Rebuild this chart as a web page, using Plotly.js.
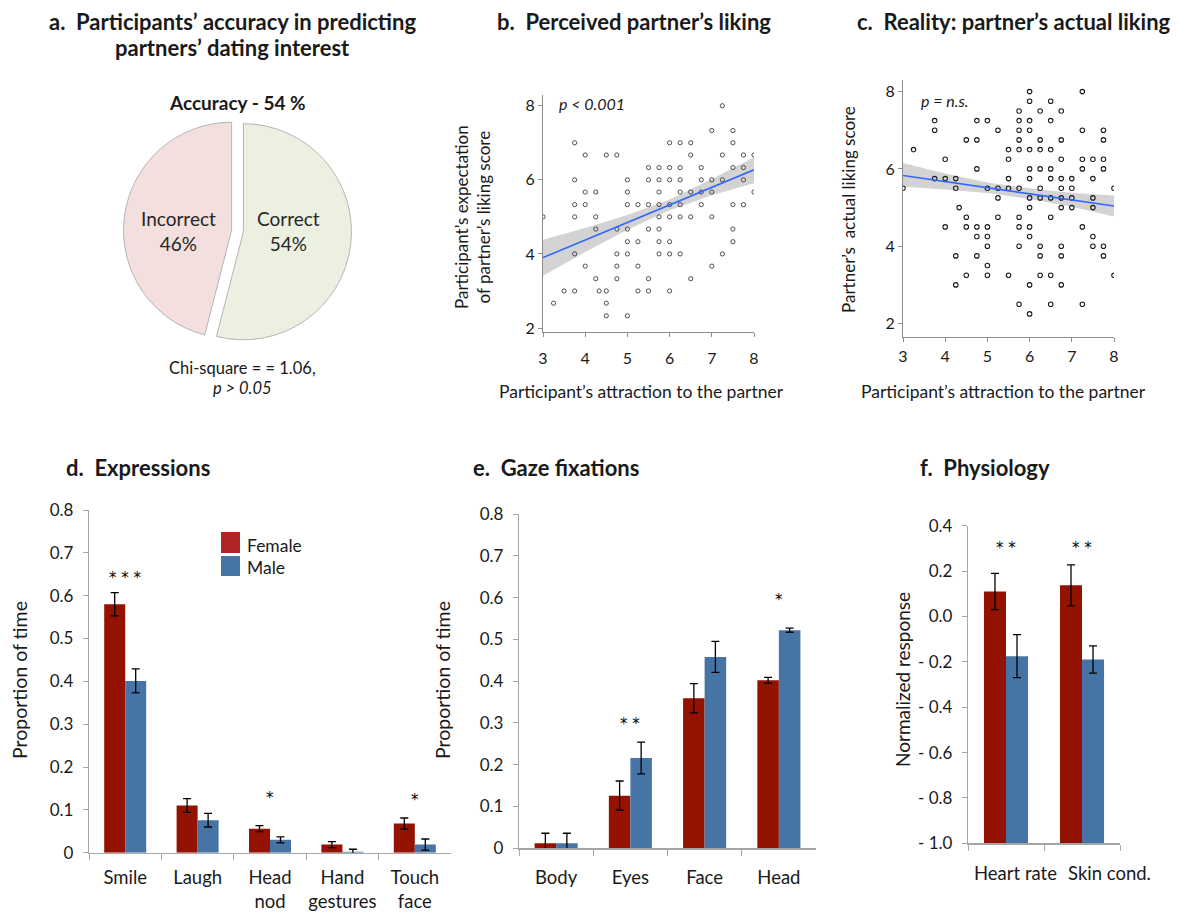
<!DOCTYPE html>
<html>
<head>
<meta charset="utf-8">
<script src="https://cdn.plot.ly/plotly-3.0.1.min.js"></script>
<style>html,body{margin:0;padding:0;background:#fff;}#chart{width:1179px;height:913px;}</style>
</head>
<body>
<div id="chart"></div>
<script>
// ---------- DATA ----------
const pieLabels = ['Correct', 'Incorrect'];
const pieValues = [54, 46];

// Panel b: perceived partner's liking (x = attraction, y = expected liking)
const bX = [
  7.25,
  7, 7.5,
  3.75, 6, 6.25, 6.5, 7.5,
  4, 4.5, 4.75, 6.5, 7.25, 7.75, 8,
  5.5, 5.75, 6, 6.25, 6.75, 7.5, 7.75,
  3.75, 5, 5.5, 5.75, 6, 6.25, 6.75, 7, 7.25, 7.75,
  4, 4.25, 5, 5.75, 6.25, 6.5, 6.75, 7, 8,
  3.75, 4, 5, 5.25, 5.5, 5.75, 6, 6.25, 6.75, 7.5, 7.75,
  3, 3.75, 4.25, 5.75, 6, 6.25, 6.5, 7,
  4.25, 4.75, 5, 5.5, 5.75, 7.5,
  5, 5.25, 5.75, 6, 7.5,
  3.75, 4.75, 5, 5.75, 6, 6.25, 7.25,
  4, 4.75, 5.25, 7,
  4.25, 4.75, 5.5, 6.5,
  3.5, 3.75, 4.33, 4.5, 5.25, 5.5, 6,
  3.25, 4.5,
  4.5, 5
];
const bY = [
  8,
  7.33, 7.33,
  7, 7, 7, 7, 7,
  6.67, 6.67, 6.67, 6.67, 6.67, 6.67, 6.67,
  6.33, 6.33, 6.33, 6.33, 6.33, 6.33, 6.33,
  6, 6, 6, 6, 6, 6, 6, 6, 6, 6,
  5.67, 5.67, 5.67, 5.67, 5.67, 5.67, 5.67, 5.67, 5.67,
  5.33, 5.33, 5.33, 5.33, 5.33, 5.33, 5.33, 5.33, 5.33, 5.33, 5.33,
  5, 5, 5, 5, 5, 5, 5, 5,
  4.67, 4.67, 4.67, 4.67, 4.67, 4.67,
  4.33, 4.33, 4.33, 4.33, 4.33,
  4, 4, 4, 4, 4, 4, 4,
  3.67, 3.67, 3.67, 3.67,
  3.33, 3.33, 3.33, 3.33,
  3, 3, 3, 3, 3, 3, 3,
  2.67, 2.67,
  2.33, 2.33
];

// Panel c: reality, partner's actual liking
const cX = [
  6, 7.25,
  6, 6.5,
  5.75, 6.25, 6.75,
  3.75, 4.75, 5, 5.75, 6, 6.5,
  3.75, 5.25, 5.75, 6, 7.25, 7.75,
  4.5, 4.75, 5.75, 6.25, 6.75, 7.75,
  3.25, 5.5, 5.75, 6, 6.25, 6.5,
  4, 5.5, 6.75, 7.25, 7.5, 7.75,
  4.75, 6, 6.25, 6.5, 7.25, 7.75,
  3.75, 4, 4.25, 5.5, 6, 6.5, 6.75, 7, 7.5,
  3, 4.25, 5, 5.25, 5.5, 5.75, 6.25, 6.75, 7, 8,
  5.25, 6, 6.25, 6.5, 6.75, 7, 7.5,
  4.33, 6, 6.75, 7, 7.5,
  4.5, 5.25, 5.75, 6.5,
  4, 4.5, 4.75, 5, 5.75, 6, 7.25,
  4.75, 5, 6, 7.5,
  5, 5.75, 6.25, 6.75, 7.5, 7.75,
  4.25, 4.75, 6.25, 6.75, 7.75,
  5,
  4.5, 5, 5.5, 6.25, 6.5, 8,
  4.25, 6, 6.75,
  5.75, 6.5, 7.25,
  6
];
const cY = [
  8, 8,
  7.75, 7.75,
  7.5, 7.5, 7.5,
  7.25, 7.25, 7.25, 7.25, 7.25, 7.25,
  7, 7, 7, 7, 7, 7,
  6.75, 6.75, 6.75, 6.75, 6.75, 6.75,
  6.5, 6.5, 6.5, 6.5, 6.5, 6.5,
  6.25, 6.25, 6.25, 6.25, 6.25, 6.25,
  6, 6, 6, 6, 6, 6,
  5.75, 5.75, 5.75, 5.75, 5.75, 5.75, 5.75, 5.75, 5.75,
  5.5, 5.5, 5.5, 5.5, 5.5, 5.5, 5.5, 5.5, 5.5, 5.5,
  5.25, 5.25, 5.25, 5.25, 5.25, 5.25, 5.25,
  5, 5, 5, 5, 5,
  4.75, 4.75, 4.75, 4.75,
  4.5, 4.5, 4.5, 4.5, 4.5, 4.5, 4.5,
  4.25, 4.25, 4.25, 4.25,
  4, 4, 4, 4, 4, 4,
  3.75, 3.75, 3.75, 3.75, 3.75,
  3.5,
  3.25, 3.25, 3.25, 3.25, 3.25, 3.25,
  3, 3, 3,
  2.5, 2.5, 2.5,
  2.25
];

// Fitted lines and confidence bands
const fitX = [3, 4, 5, 6, 7, 8];
const bFit = [3.90, 4.37, 4.85, 5.32, 5.80, 6.27];
const bLo  = [3.41, 4.05, 4.65, 5.18, 5.58, 5.91];
const bHi  = [4.38, 4.70, 5.05, 5.47, 6.02, 6.61];
const cFit = [5.83, 5.67, 5.51, 5.36, 5.20, 5.04];
const cLo  = [5.54, 5.47, 5.38, 5.22, 5.02, 4.77];
const cHi  = [6.15, 5.88, 5.65, 5.50, 5.38, 5.31];

// Panel d: expressions
const exprCats = ['Smile', 'Laugh', 'Head nod', 'Hand gestures', 'Touch face'];
const exprTickText = ['Smile', 'Laugh', 'Head<br>nod', 'Hand<br>gestures', 'Touch<br>face'];
const exprFemale = [0.580, 0.110, 0.056, 0.019, 0.068];
const exprFemaleErr = [0.027, 0.016, 0.007, 0.007, 0.013];
const exprMale = [0.401, 0.076, 0.030, 0.002, 0.019];
const exprMaleErr = [0.028, 0.016, 0.007, 0.006, 0.013];
const exprSig = ['* * *', '', '*', '', '*'];
const exprSigY = [0.646, null, 0.133, null, 0.128];

// Panel e: gaze fixations
const gazeCats = ['Body', 'Eyes', 'Face', 'Head'];
const gazeFemale = [0.012, 0.126, 0.359, 0.402];
const gazeFemaleErr = [0.024, 0.035, 0.035, 0.007];
const gazeMale = [0.012, 0.216, 0.458, 0.522];
const gazeMaleErr = [0.024, 0.038, 0.037, 0.005];
const gazeSig = ['', '* *', '', '*'];
const gazeSigY = [null, 0.303, null, 0.598];

// Panel f: physiology
const physCats = ['Heart rate', 'Skin cond.'];
const physFemale = [0.110, 0.137];
const physFemaleErr = [0.080, 0.090];
const physMale = [-0.175, -0.190];
const physMaleErr = [0.095, 0.060];
const physSig = ['* *', '* *'];
const physSigY = [0.31, 0.31];
const physBase = -1.0;
const physTickVals = [0.4, 0.2, 0.0, -0.2, -0.4, -0.6, -0.8, -1.0];
const physTickText = ['0.4', '0.2', '0.0', '- 0.2', '- 0.4', '- 0.6', '- 0.8', '- 1.0'];

// ---------- STYLE ----------
const W = 1179, H = 913;
const px = x => x / W;
const py = y => 1 - y / H;
const FONT = 'Lato, "Open Sans", sans-serif';
const TXT = '#1a1a1a';
const FEMALE = '#941200';
const MALE = '#4674A5';
const AXC = '#a6a6a6';

const errStyle = (arr) => ({type: 'data', array: arr, visible: true, color: '#000', thickness: 1.3, width: 4});

const traces = [];

// Pie
traces.push({
  type: 'pie', labels: pieLabels, values: pieValues, sort: false, direction: 'clockwise', rotation: 0,
  pull: [0.055, 0.055],
  domain: {x: [px(123.5), px(351.5)], y: [py(345), py(117)]},
  marker: {colors: ['#ecf0e1', '#f3dfdd'], line: {color: '#b5b5b5', width: 1}},
  textposition: 'none', hoverinfo: 'label+percent', showlegend: false
});

// Panel b
traces.push({type: 'scatter', x: fitX, y: bLo, xaxis: 'x', yaxis: 'y', mode: 'lines', line: {width: 0}, hoverinfo: 'skip', showlegend: false});
traces.push({type: 'scatter', x: fitX, y: bHi, xaxis: 'x', yaxis: 'y', mode: 'lines', fill: 'tonexty', fillcolor: 'rgba(175,175,175,0.55)', line: {width: 0}, hoverinfo: 'skip', showlegend: false});
traces.push({type: 'scatter', x: bX, y: bY, xaxis: 'x', yaxis: 'y', mode: 'markers', marker: {symbol: 'circle-open', size: 4.2, color: '#3c3c3c', line: {width: 0.9}}, showlegend: false});
traces.push({type: 'scatter', x: fitX, y: bFit, xaxis: 'x', yaxis: 'y', mode: 'lines', line: {color: '#3366ff', width: 1.6}, showlegend: false});

// Panel c
traces.push({type: 'scatter', x: fitX, y: cLo, xaxis: 'x2', yaxis: 'y2', mode: 'lines', line: {width: 0}, hoverinfo: 'skip', showlegend: false});
traces.push({type: 'scatter', x: fitX, y: cHi, xaxis: 'x2', yaxis: 'y2', mode: 'lines', fill: 'tonexty', fillcolor: 'rgba(175,175,175,0.55)', line: {width: 0}, hoverinfo: 'skip', showlegend: false});
traces.push({type: 'scatter', x: cX, y: cY, xaxis: 'x2', yaxis: 'y2', mode: 'markers', marker: {symbol: 'circle-open', size: 4.5, color: '#1a1a1a', line: {width: 1.1}}, showlegend: false});
traces.push({type: 'scatter', x: fitX, y: cFit, xaxis: 'x2', yaxis: 'y2', mode: 'lines', line: {color: '#3366ff', width: 1.6}, showlegend: false});

// Panel d
traces.push({type: 'bar', name: 'Female', x: exprCats, y: exprFemale, error_y: errStyle(exprFemaleErr), xaxis: 'x3', yaxis: 'y3', marker: {color: FEMALE}, showlegend: false});
traces.push({type: 'bar', name: 'Male', x: exprCats, y: exprMale, error_y: errStyle(exprMaleErr), xaxis: 'x3', yaxis: 'y3', marker: {color: MALE}, showlegend: false});
// Panel e
traces.push({type: 'bar', name: 'Female', x: gazeCats, y: gazeFemale, error_y: errStyle(gazeFemaleErr), xaxis: 'x4', yaxis: 'y4', marker: {color: FEMALE}, showlegend: false});
traces.push({type: 'bar', name: 'Male', x: gazeCats, y: gazeMale, error_y: errStyle(gazeMaleErr), xaxis: 'x4', yaxis: 'y4', marker: {color: MALE}, showlegend: false});
// Panel f (bars rise from the -1.0 floor)
traces.push({type: 'bar', name: 'Female', x: physCats, y: physFemale.map(v => v - physBase), base: physBase, customdata: physFemale, hovertemplate: '%{customdata}<extra>Female</extra>', error_y: errStyle(physFemaleErr), xaxis: 'x5', yaxis: 'y5', marker: {color: FEMALE}, showlegend: false});
traces.push({type: 'bar', name: 'Male', x: physCats, y: physMale.map(v => v - physBase), base: physBase, customdata: physMale, hovertemplate: '%{customdata}<extra>Male</extra>', error_y: errStyle(physMaleErr), xaxis: 'x5', yaxis: 'y5', marker: {color: MALE}, showlegend: false});

// ---------- LAYOUT ----------
const tickFont = {family: FONT, size: 16, color: TXT};
const scatAxis = {showline: true, linecolor: '#8c8c8c', linewidth: 1, ticks: 'outside', ticklen: 4, tickcolor: '#8c8c8c', showgrid: false, zeroline: false, tickfont: tickFont, fixedrange: true};
const barY = {showline: true, linecolor: AXC, linewidth: 1.2, ticks: 'outside', ticklen: 5, tickcolor: AXC, showgrid: false, zeroline: false, tickfont: {family: FONT, size: 17, color: TXT}, ticklabelstandoff: 6};
const barX = {type: 'category', showline: true, linecolor: AXC, linewidth: 1.2, ticks: 'outside', tickson: 'boundaries', ticklen: 6, tickcolor: AXC, showgrid: false, zeroline: false, tickangle: 0, tickfont: {family: FONT, size: 18.5, color: TXT}};

const layout = {
  width: W, height: H, margin: {l: 0, r: 0, t: 0, b: 0},
  paper_bgcolor: '#fff', plot_bgcolor: 'rgba(0,0,0,0)',
  font: {family: FONT, color: TXT},
  barmode: 'group', bargap: 0.42, bargroupgap: 0,
  showlegend: false,
  xaxis: Object.assign({}, scatAxis, {domain: [px(543), px(754)], range: [3, 8], dtick: 1, anchor: 'y', ticklabelstandoff: 8}),
  yaxis: Object.assign({}, scatAxis, {domain: [py(331.7), py(94.6)], range: [1.9, 8.3], tickvals: [2, 4, 6, 8], anchor: 'x'}),
  xaxis2: Object.assign({}, scatAxis, {domain: [px(903), px(1114)], range: [3, 8], dtick: 1, anchor: 'y2', ticklabelstandoff: 1}),
  yaxis2: Object.assign({}, scatAxis, {domain: [py(336.7), py(80)], range: [1.66, 8.3], tickvals: [2, 4, 6, 8], anchor: 'x2'}),
  xaxis3: Object.assign({}, barX, {domain: [px(89), px(451)], anchor: 'y3', categoryarray: exprCats, range: [-0.5, exprCats.length - 0.5], tickvals: exprCats, ticktext: exprTickText, ticklabelstandoff: 8}),
  yaxis3: Object.assign({}, barY, {domain: [py(852.7), py(510)], range: [0, 0.8], dtick: 0.1, anchor: 'x3'}),
  xaxis4: Object.assign({}, barX, {domain: [px(519), px(816)], anchor: 'y4', categoryarray: gazeCats, range: [-0.5, gazeCats.length - 0.5], ticklabelstandoff: 12}),
  yaxis4: Object.assign({}, barY, {domain: [py(848.3), py(514)], range: [0, 0.8], dtick: 0.1, anchor: 'x4'}),
  xaxis5: Object.assign({}, barX, {domain: [px(968), px(1120)], anchor: 'y5', categoryarray: physCats, range: [-0.5, physCats.length - 0.5], showticklabels: false}),
  yaxis5: Object.assign({}, barY, {domain: [py(843.3), py(525.7)], range: [-1, 0.4], tickvals: physTickVals, ticktext: physTickText, anchor: 'x5'}),
  shapes: [
    {type: 'rect', xref: 'paper', yref: 'paper', x0: px(221), x1: px(240), y0: py(553), y1: py(532), fillcolor: '#b22424', line: {width: 0}},
    {type: 'rect', xref: 'paper', yref: 'paper', x0: px(221), x1: px(240), y0: py(576), y1: py(556), fillcolor: MALE, line: {width: 0}}
  ],
  annotations: []
};

const A = layout.annotations;
function note(text, x, y, opts) {
  A.push(Object.assign({text: text, xref: 'paper', yref: 'paper', x: px(x), y: py(y), showarrow: false,
    xanchor: 'center', yanchor: 'middle', font: {family: FONT, size: 15, color: TXT}}, opts || {}));
}
const titleFont = {family: FONT, size: 22, color: TXT, weight: 'bold'};
// Panel titles
note('<b>a.\u00a0\u00a0Participants’ accuracy in predicting</b>', 232, 21, {font: titleFont});
note('<b>partners’ dating interest</b>', 232, 47, {font: titleFont});
note('<b>b.\u00a0\u00a0Perceived partner’s liking</b>', 634, 21, {font: titleFont});
note('<b>c.\u00a0\u00a0Reality: partner’s actual liking</b>', 1014, 21, {font: titleFont});
note('<b>d.\u00a0\u00a0Expressions</b>', 64, 468, {font: titleFont, xanchor: 'left'});
note('<b>e.\u00a0\u00a0Gaze fixations</b>', 471, 468, {font: titleFont, xanchor: 'left'});
note('<b>f.\u00a0\u00a0Physiology</b>', 918, 468, {font: titleFont, xanchor: 'left'});
// Pie slice labels (text from the pie data)
const pieLabelX = [288, 178];
pieLabels.forEach((lab, i) => note(lab + '<br>' + pieValues[i] + '%', pieLabelX[i], 231,
  {font: {family: FONT, size: 19, color: '#262626'}}));
// Pie annotations
note('<b>Accuracy - 54 %</b>', 237, 102, {font: {family: FONT, size: 19, color: TXT}});
note('Chi-square = = 1.06,', 242, 368, {font: {family: FONT, size: 16.5, color: TXT}});
note('<i>p > 0.05</i>', 242, 388, {font: {family: FONT, size: 16.5, color: TXT}});
// p-values
note('<i>p < 0.001</i>', 557, 104, {xanchor: 'left', font: {family: FONT, size: 16, color: TXT}});
note('<i>p = n.s.</i>', 919, 101, {xanchor: 'left', font: {family: FONT, size: 16, color: TXT}});
// Axis titles
note('Participant’s attraction to the partner', 641, 392, {font: {family: FONT, size: 17.5, color: TXT}});
note('Participant’s attraction to the partner', 1004, 392, {font: {family: FONT, size: 17.5, color: TXT}});
note('Participant’s expectation<br>of partner’s liking score', 472, 217, {textangle: -90, font: {family: FONT, size: 17, color: TXT}});
note('Partner’s\u00a0\u00a0actual liking score', 848, 210, {textangle: -90, font: {family: FONT, size: 17, color: TXT}});
note('Proportion of time', 19, 680, {textangle: -90, font: {family: FONT, size: 19.5, color: TXT}});
note('Proportion of time', 442, 680, {textangle: -90, font: {family: FONT, size: 19.5, color: TXT}});
note('Normalized response', 902, 680, {textangle: -90, font: {family: FONT, size: 19, color: TXT}});
// Legend text
note('Female', 245, 545, {xanchor: 'left', font: {family: FONT, size: 17.5, color: TXT}});
note('Male', 245, 567, {xanchor: 'left', font: {family: FONT, size: 17.5, color: TXT}});

// Panel f category labels (placed on the category axis, offset to the right as in the original)
const physLabelShift = [9, 27];
physCats.forEach((c, i) => A.push({text: c, x: c, y: -1, xref: 'x5', yref: 'y5', showarrow: false,
  xanchor: 'center', yanchor: 'middle', xshift: physLabelShift[i], yshift: -30,
  font: {family: FONT, size: 18.5, color: TXT}}));

// Significance stars
function stars(cats, sig, sy, xa, ya) {
  cats.forEach((c, i) => {
    if (sig[i]) A.push({text: sig[i], x: c, y: sy[i], xref: xa, yref: ya, showarrow: false, yanchor: 'middle', yshift: -2,
      font: {family: '"DejaVu Sans", sans-serif', size: 15, color: '#000'}});
  });
}
stars(exprCats, exprSig, exprSigY, 'x3', 'y3');
stars(gazeCats, gazeSig, gazeSigY, 'x4', 'y4');
stars(physCats, physSig, physSigY, 'x5', 'y5');

Plotly.newPlot('chart', traces, layout, {displayModeBar: false, staticPlot: true});
</script>
</body>
</html>
